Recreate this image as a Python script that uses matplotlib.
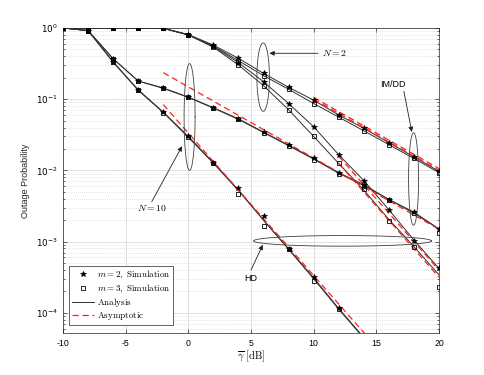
import numpy as np
import matplotlib
matplotlib.use("Agg")
import matplotlib.pyplot as plt
from matplotlib.lines import Line2D
from matplotlib.font_manager import FontProperties

plt.rcParams['font.family'] = ['Liberation Sans', 'DejaVu Sans']
plt.rcParams['mathtext.fontset'] = 'dejavusans'
plt.rcParams['axes.unicode_minus'] = False

# ---------------- data ----------------
snr = [-10, -8, -6, -4, -2, 0, 2, 4, 6, 8, 10, 12, 14, 16, 18, 20]
snr_hd10 = [-10, -8, -6, -4, -2, 0, 2, 4, 6, 8, 10, 12, 14]

# N = 2, IM/DD
sim_n2_imdd_m2 = [1.0, 1.0, 1.0, 1.0, 0.99, 0.81, 0.575, 0.375, 0.231, 0.147, 0.097, 0.060, 0.039, 0.0245, 0.0155, 0.0097]
sim_n2_imdd_m3 = [1.0, 1.0, 1.0, 1.0, 0.99, 0.80, 0.56, 0.347, 0.214, 0.138, 0.087, 0.056, 0.036, 0.023, 0.0147, 0.0093]
# N = 2, HD
sim_n2_hd_m2 = [1.0, 1.0, 1.0, 1.0, 0.99, 0.80, 0.55, 0.326, 0.176, 0.087, 0.041, 0.0166, 0.0072, 0.0028, 0.00103, 0.00042]
sim_n2_hd_m3 = [1.0, 1.0, 1.0, 1.0, 0.99, 0.80, 0.537, 0.302, 0.155, 0.071, 0.030, 0.0125, 0.0055, 0.00195, 0.00085, 0.00023]
# N = 10, IM/DD
sim_n10_imdd_m2 = [1.0, 0.92, 0.37, 0.18, 0.144, 0.107, 0.076, 0.053, 0.0346, 0.0226, 0.0147, 0.0093, 0.0063, 0.0039, 0.0026, 0.0015]
sim_n10_imdd_m3 = [1.0, 0.92, 0.37, 0.18, 0.142, 0.106, 0.075, 0.052, 0.034, 0.0222, 0.0142, 0.0088, 0.0060, 0.0039, 0.0025, 0.0013]
# N = 10, HD
sim_n10_hd_m2 = [1.0, 0.92, 0.335, 0.136, 0.066, 0.030, 0.0129, 0.0057, 0.0023, 0.00079, 0.00032, 0.000115, 4.6e-5]
sim_n10_hd_m3 = [1.0, 0.92, 0.33, 0.133, 0.065, 0.029, 0.0126, 0.0047, 0.00167, 0.00078, 0.00028, 0.000112, 4.5e-5]

# analysis
ana_n2_imdd_m2 = [1.0, 1.0, 1.0, 1.0, 0.99, 0.81, 0.575, 0.375, 0.231, 0.147, 0.097, 0.060, 0.039, 0.0245, 0.0155, 0.0097]
ana_n2_imdd_m3 = [1.0, 1.0, 1.0, 1.0, 0.99, 0.80, 0.56, 0.347, 0.214, 0.138, 0.087, 0.056, 0.036, 0.023, 0.0147, 0.0093]
ana_n2_hd_m2 = [1.0, 1.0, 1.0, 1.0, 0.99, 0.80, 0.55, 0.326, 0.176, 0.087, 0.041, 0.0166, 0.0072, 0.0028, 0.00105, 0.00042]
ana_n2_hd_m3 = [1.0, 1.0, 1.0, 1.0, 0.99, 0.80, 0.537, 0.302, 0.155, 0.071, 0.030, 0.0125, 0.0053, 0.00205, 0.00085, 0.00034]
ana_n10_imdd_m2 = [1.0, 0.92, 0.37, 0.18, 0.144, 0.107, 0.076, 0.053, 0.0346, 0.0226, 0.0147, 0.0093, 0.0063, 0.0039, 0.0026, 0.0015]
ana_n10_imdd_m3 = [1.0, 0.92, 0.37, 0.18, 0.142, 0.106, 0.075, 0.052, 0.034, 0.0222, 0.0144, 0.0091, 0.0061, 0.0039, 0.0025, 0.0015]
ana_n10_hd_m2 = [1.0, 0.92, 0.335, 0.136, 0.066, 0.030, 0.0129, 0.0053, 0.0020, 0.00079, 0.00031, 0.000115, 4.5e-5]
ana_n10_hd_m3 = [1.0, 0.92, 0.33, 0.133, 0.065, 0.029, 0.0126, 0.0052, 0.0020, 0.00078, 0.00030, 0.000112, 4.4e-5]

# asymptotes (straight lines on log scale: start / end points)
asy_snr_n10_imdd = [-2, 20]
asy_n10_imdd = [0.236, 0.00149]
asy_snr_n10_hd = [-2, 16]
asy_n10_hd = [0.084, 2.1e-5]
asy_snr_n2_imdd = [10, 20]
asy_n2_imdd_m2 = [0.106, 0.0106]
asy_n2_imdd_m3 = [0.100, 0.0100]
asy_snr_n2_hd = [12, 20]
asy_n2_hd_m2 = [0.0158, 3.97e-4]
asy_n2_hd_m3 = [0.0125, 3.15e-4]

xticks = [-10, -5, 0, 5, 10, 15, 20]
yticks = [1e0, 1e-1, 1e-2, 1e-3, 1e-4]
yticklabels = [r'$10^{0}$', r'$10^{-1}$', r'$10^{-2}$', r'$10^{-3}$', r'$10^{-4}$']

# ---------------- figure ----------------
fig = plt.figure(figsize=(4.85, 3.75), dpi=100)
ax = fig.add_axes([63/485, 1-333/375, (439-63)/485, (333-28)/375])
ax.set_yscale('log')

lw_ana = 0.7
for x, y in [(snr, ana_n2_imdd_m2), (snr, ana_n2_imdd_m3), (snr, ana_n2_hd_m2), (snr, ana_n2_hd_m3),
             (snr, ana_n10_imdd_m2), (snr, ana_n10_imdd_m3),
             (snr_hd10, ana_n10_hd_m2), (snr_hd10, ana_n10_hd_m3)]:
    ax.plot(x, y, color='#303030', lw=lw_ana, zorder=3)

red = '#ff2020'
for x, y in [(asy_snr_n10_imdd, asy_n10_imdd), (asy_snr_n10_hd, asy_n10_hd),
             (asy_snr_n2_imdd, asy_n2_imdd_m2), (asy_snr_n2_imdd, asy_n2_imdd_m3),
             (asy_snr_n2_hd, asy_n2_hd_m2), (asy_snr_n2_hd, asy_n2_hd_m3)]:
    ax.plot(x, y, color=red, lw=0.9, ls=(0, (5, 3)), zorder=4)

ms_star = 3.9
ms_sq = 3.2
for x, y in [(snr, sim_n2_imdd_m2), (snr, sim_n2_hd_m2), (snr, sim_n10_imdd_m2), (snr_hd10, sim_n10_hd_m2)]:
    ax.plot(x, y, ls='none', marker='*', ms=ms_star, color='k', mew=0.5, zorder=5)
for x, y in [(snr, sim_n2_imdd_m3), (snr, sim_n2_hd_m3), (snr, sim_n10_imdd_m3), (snr_hd10, sim_n10_hd_m3)]:
    ax.plot(x, y, ls='none', marker='s', ms=ms_sq, mfc='none', mec='k', mew=0.6, zorder=5)

# ellipses (annotation shapes)
def ellipse(cx, a, cly, b):
    t = np.linspace(0, 2*np.pi, 300)
    ax.plot(cx + a*np.cos(t), 10**(cly + b*np.sin(t)), color='#404040', lw=0.6, zorder=6, clip_on=False)

ellipse(5.97, 0.5, -0.69, 0.48)     # N = 2
ellipse(0.1, 0.44, -1.25, 0.75)     # N = 10
ellipse(17.97, 0.4, -2.12, 0.65)    # IM/DD
ellipse(12.3, 7.1, -2.99, 0.075)    # HD

ap = dict(arrowstyle='-|>', lw=0.6, color='#202020', mutation_scale=7, shrinkA=0, shrinkB=0)
ax.annotate('', xy=(6.47, 10**-0.355), xytext=(10.35, 10**-0.355), arrowprops=ap, zorder=7)
ax.text(11.65, 10**-0.355, r'$N = 2$', fontsize=7, ha='center', va='center', math_fontfamily='cm')
ax.annotate('', xy=(-0.5, 10**-1.66), xytext=(-2.92, 10**-2.44), arrowprops=ap, zorder=7)
ax.text(-2.9, 10**-2.53, r'$N = 10$', fontsize=7, ha='center', va='center', math_fontfamily='cm')
ax.annotate('', xy=(17.83, 10**-1.46), xytext=(17.2, 10**-0.89), arrowprops=ap, zorder=7)
ax.text(16.35, 10**-0.8, 'IM/DD', fontsize=6.5, ha='center', va='center')
ax.annotate('', xy=(5.94, 10**-3.045), xytext=(5.0, 10**-3.40), arrowprops=ap, zorder=7)
ax.text(5.0, 10**-3.52, 'HD', fontsize=6.5, ha='center', va='center')

# axes style
ax.set_xlim(-10, 20)
ax.set_ylim(5.2e-5, 1.0)
ax.set_xticks(xticks)
ax.set_xticklabels([str(v) for v in xticks])
ax.set_yticks(yticks)
ax.set_yticklabels(yticklabels)
ax.xaxis.set_minor_locator(matplotlib.ticker.NullLocator())
ax.yaxis.set_minor_locator(matplotlib.ticker.LogLocator(base=10, subs=np.arange(2, 10)))
ax.yaxis.set_minor_formatter(matplotlib.ticker.NullFormatter())
ax.tick_params(which='both', direction='in', top=True, right=True, labelsize=6.3, width=0.5, color='#262626', pad=4)
ax.tick_params(which='major', length=3)
ax.tick_params(which='minor', length=1.6)
for lbl in ax.get_yticklabels():
    lbl.set_math_fontfamily('dejavusans')
ax.grid(which='major', color='#dadada', lw=0.6, ls='-')
ax.grid(which='minor', axis='y', color='#c8c8c8', lw=0.5, ls=(0, (1, 2)))
ax.set_axisbelow(True)
for s in ax.spines.values():
    s.set_linewidth(0.5)
    s.set_color('#262626')

ax.set_ylabel('Outage Probability', fontsize=6.5, color='#262626', labelpad=4)
ax.set_xlabel(r'$\overline{\gamma}\ \mathrm{[dB]}$', fontsize=7.5, math_fontfamily='cm', labelpad=1)

handles = [Line2D([], [], ls='none', marker='*', ms=ms_star, color='k', mew=0.5),
           Line2D([], [], ls='none', marker='s', ms=ms_sq, mfc='none', mec='k', mew=0.6),
           Line2D([], [], color='#303030', lw=lw_ana),
           Line2D([], [], color=red, lw=0.9, ls=(0, (5, 3)))]
labels = [r'$m = 2,\ \mathrm{Simulation}$', r'$m = 3,\ \mathrm{Simulation}$',
          r'$\mathrm{Analysis}$', r'$\mathrm{Asymptotic}$']
leg = ax.legend(handles, labels, loc='lower left', bbox_to_anchor=(0.016, 0.026), borderaxespad=0,
                prop=FontProperties(size=6.5, math_fontfamily='cm'), handlelength=2.5, handletextpad=0.3,
                labelspacing=0.15, borderpad=0.3, fancybox=False, framealpha=1, edgecolor='#262626')
leg.get_frame().set_linewidth(0.5)

fig.savefig('out.png', dpi=100)
